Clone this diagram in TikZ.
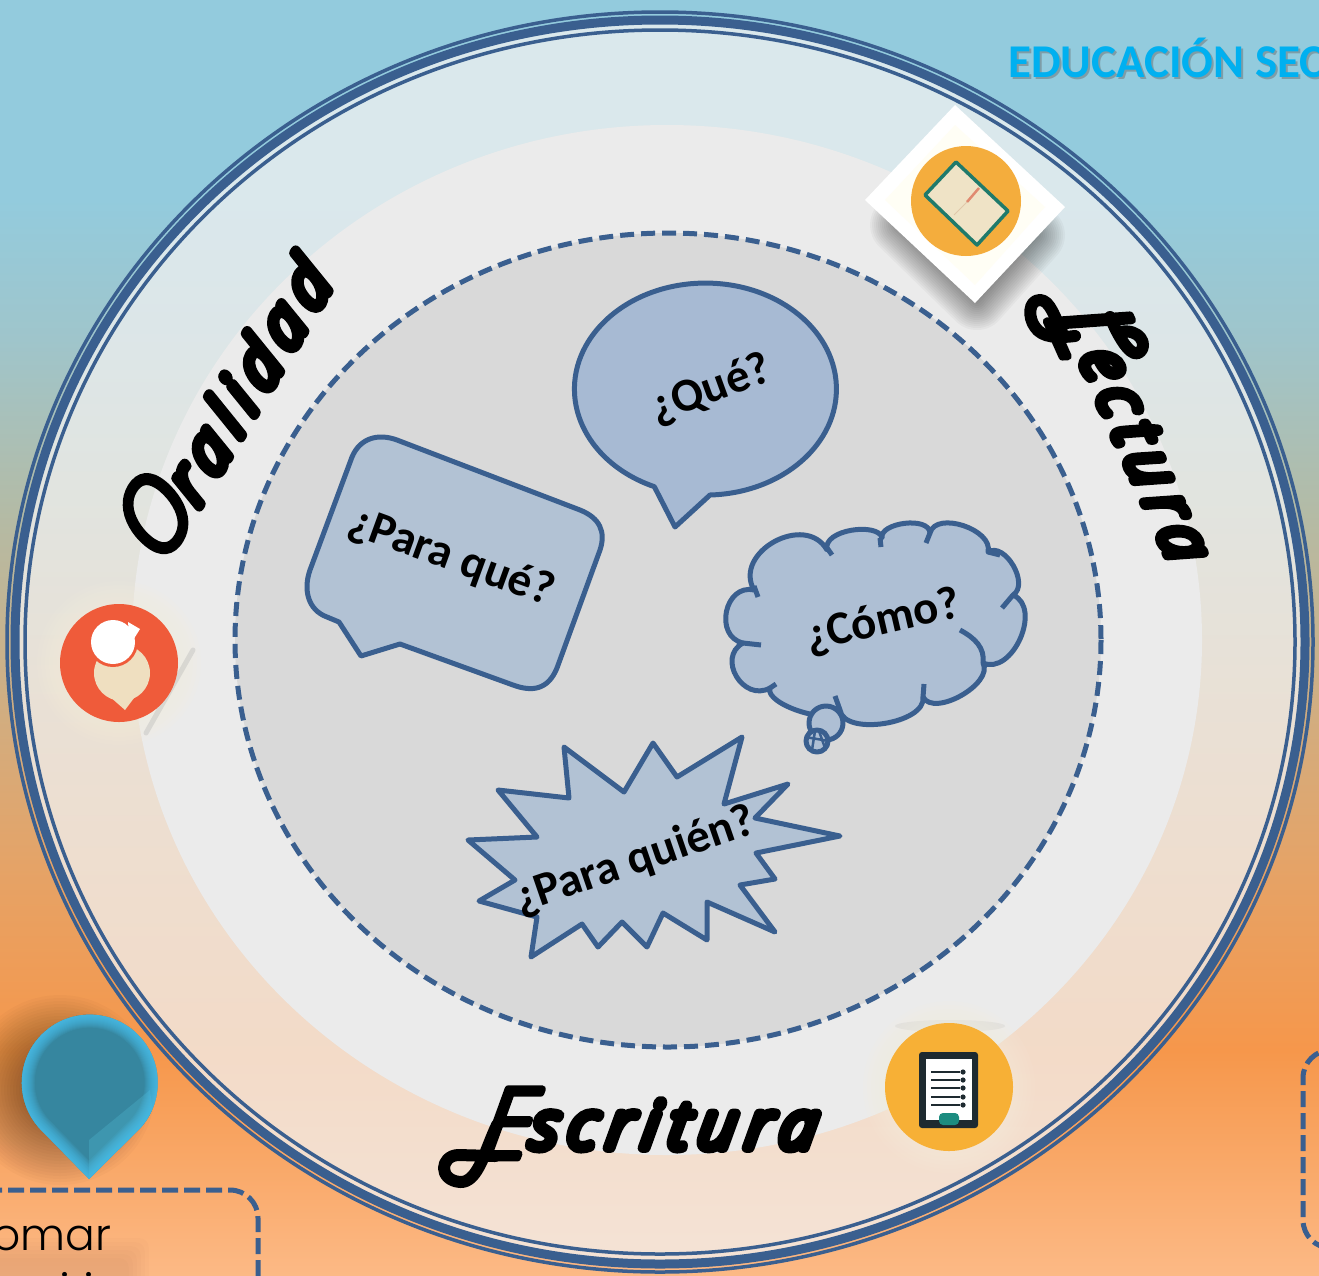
\documentclass[tikz,border=0pt]{standalone}
\usepackage{fontspec}
\usetikzlibrary{calc}
\newfontfamily\cali[Ligatures=TeX]{Carlito}
\newfontfamily\scrp[UprightFont={* Light Italic},FakeBold=15,FakeSlant=0.15,LetterSpace=17]{Open Sans}
\newfontfamily\scrc[UprightFont={* Light Italic},FakeBold=7,FakeSlant=0.15]{Open Sans}
\newfontfamily\goth[UprightFont={* Light}]{Poppins}
\definecolor{bgA}{HTML}{93CBDD}
\definecolor{bgB}{HTML}{9FC5CB}
\definecolor{bgC}{HTML}{B3BBA6}
\definecolor{bgD}{HTML}{D0AE82}
\definecolor{bgE}{HTML}{E5A367}
\definecolor{bgF}{HTML}{F6974B}
\definecolor{bgG}{HTML}{FCB985}
\definecolor{ink}{HTML}{3A5F8F}
\definecolor{bubA}{HTML}{A7BAD3}
\definecolor{bubB}{HTML}{B2C2D4}
\definecolor{bubC}{HTML}{AEBFD4}
\definecolor{halo}{HTML}{F6EEDC}
\definecolor{veil}{HTML}{F2F2F2}
\pgfdeclareverticalshading{bgv}{100bp}{color(0bp)=(bgG); color(25bp)=(bgG); color(33.8bp)=(bgF); color(41bp)=(bgE); color(47.5bp)=(bgD); color(55bp)=(bgC); color(61.7bp)=(bgB); color(67.2bp)=(bgA); color(100bp)=(bgA)}
\def\lobe(#1)(#2)(#3){.. controls ($0.333*(#1)+1.333*(#2)-0.667*(#3)$) and ($-0.667*(#1)+1.333*(#2)+0.333*(#3)$) .. (#3)}
\newcommand\capl[3]{{\scrc\fontsize{#2}{#2}\selectfont\raisebox{#3}{#1}}}
\tikzset{
  bubble/.style={draw=ink,line width=5pt,line join=round},
  ring/.style={draw=ink},
  asklabel/.style={font=\cali\bfseries\fontsize{47}{47}\selectfont,text=black,inner sep=0pt},
  scriptlabel/.style={font=\scrp\fontsize{65}{65}\selectfont,text=black,inner sep=0pt,line join=round,anchor=base west},
  swash/.style={draw=black,line width=12pt,line cap=round,line join=round},
  boxdash/.style={draw=ink,line width=5pt,dash pattern=on 16pt off 6pt,rounded corners=28pt},
}
\begin{document}
\begin{tikzpicture}[x=1pt,y=-1pt]
\useasboundingbox (0,0) rectangle (1319,1275);
\clip (0,0) rectangle (1319,1275);
\shade[shading=bgv] (0,0) rectangle (1319,1275);
% rings
\fill[veil,opacity=.75] (660,642) circle[x radius=645,y radius=623];
\draw[ring,line width=3.5pt] (660,642) circle[x radius=653,y radius=630];
\draw[ring,line width=9pt] (660,642) circle[x radius=645,y radius=622];
\draw[ring,line width=3.5pt] (660,642) circle[x radius=635,y radius=612];
% middle discs
\fill[fill=white!92!black] (667,640) circle[x radius=535,y radius=515];
\draw[fill=black!15,draw=ink,line width=5pt,dash pattern=on 14pt off 7pt] (668,640) circle[x radius=433,y radius=407];
% book icon
\foreach \w in {4,8,...,60}{\fill[black,opacity=.03,draw=black,line width=\w pt,line join=round] (960,160)--(1035,235)--(977,300)--(900,225)--cycle;}
\fill[white] (955,105)--(1065,207)--(975,303)--(865,200)--cycle;
\fill[yellow!4!white] (955,125)--(1045,207)--(975,285)--(885,200)--cycle;
\fill[fill={rgb,255:red,244;green,173;blue,61}] (966,201) circle[radius=55];
\draw[draw={rgb,255:red,31;green,122;blue,107},fill={rgb,255:red,239;green,227;blue,198},line width=3.5pt,line join=round] (956,162)--(1008,211)--(977,245)--(925,195)--cycle;
\draw[draw={rgb,255:red,224;green,138;blue,112},line width=2.5pt] (979,188)--(967,202);
\draw[draw={rgb,255:red,224;green,200;blue,170},line width=1pt] (967,202)--(954,215);
% speaker icon
\foreach \w in {4,8,...,24}{\fill[halo,opacity=.1] (119,663) circle[radius=58+\w];}
\draw[black!30,opacity=.35,line width=5pt,line cap=round] (193,650)--(146,733);
\fill[fill={rgb,255:red,239;green,91;blue,58}] (119,663) circle[radius=59];
\fill[fill={rgb,255:red,239;green,223;blue,192}] (122,673) circle[radius=28];
\fill[fill={rgb,255:red,239;green,223;blue,192}] (108,695)--(125,710)--(140,690)--cycle;
\fill[fill={rgb,255:red,239;green,91;blue,58}] (113,642) circle[radius=25];
\fill[white] (113,642) circle[radius=22];
\fill[white] (128,622)--(140,629)--(130,645)--cycle;
% document icon
\fill[black!30,opacity=.2] (950,1026) circle[x radius=55,y radius=6];
\foreach \w in {4,8,...,24}{\fill[halo,opacity=.1] (949,1087) circle[radius=62+\w];}
\fill[fill={rgb,255:red,247;green,176;blue,54}] (949,1087) circle[radius=64];
\fill[fill={rgb,255:red,30;green,42;blue,48},rounded corners=3pt] (919,1052) rectangle (978,1128);
\fill[white] (926,1059) rectangle (972,1120);
\foreach \y in {1072,1080,1088,1097,1105}{\fill[fill={rgb,255:red,30;green,42;blue,48}] (931,\y-1) rectangle (960,\y+1); \fill[fill={rgb,255:red,30;green,42;blue,48}] (963,\y) circle[radius=2.6];}
\fill[fill={rgb,255:red,28;green,140;blue,128},rounded corners=4pt] (939,1113) rectangle (959,1125);
% que bubble
\draw[bubble,fill=bubA] (655,488)--(675,527)--(710,495) arc[start angle=88,end angle=-247,x radius=131,y radius=106]--cycle;
% para que bubble
\draw[bubble,fill=bubB] (397,440)--(580,510) .. controls (600,518) and (606,532) .. (600,550)--(557,668) .. controls (548,690) and (532,692) .. (513,685)--(400,644)--(361,656)--(339,622)--(327,617) .. controls (308,610) and (303,590) .. (310,570)--(352,457) .. controls (360,438) and (378,433) .. (397,440)--cycle;
% cloud
\draw[bubble,fill=bubC] (754,590) \lobe(754,590)(775,542)(827,550) \lobe(825,545)(852,530)(882,538) \lobe(880,540)(905,524)(930,533) \lobe(930,533)(964,526)(988,552) \lobe(988,552)(1014,566)(1013,595) \lobe(1013,595)(1021,639)(983,663) \lobe(983,663)(962,696)(923,697) \lobe(923,697)(885,724)(840,710) \lobe(840,710)(801,712)(770,688) \lobe(770,688)(737,677)(743,643) \lobe(743,643)(727,612)(754,590)--cycle;
\draw[bubble] (754,586)--(758,597);
\draw[bubble] (825,545)--(832,555);
\draw[bubble] (880,538)--(881,547);
\draw[bubble] (930,533)--(926,543);
\draw[bubble] (988,552)--(1000,555);
\draw[bubble] (1013,595)--(1002,608);
\draw[bubble] (983,663) .. controls (985,648) and (975,638) .. (960,630);
\draw[bubble] (923,697)--(924,684);
\draw[bubble] (840,710)--(835,696);
\draw[bubble] (770,688)--(776,684);
\draw[bubble] (743,643)--(761,645);
\draw[bubble,fill=bubC] (826,723) circle[radius=17];
\draw[bubble,fill=bubC] (817,741) circle[radius=11];
\draw[ink,line width=2.5pt] (805,737)--(829,741) (815,731)--(812,750) (819,731)--(825,748);
% star
\draw[bubble,fill=bubB] (564,747)--(624,792)--(653,743)--(677,777)--(742,737)--(724,804)--(788,784)--(755,818)--(840,836)--(756,853)--(775,879)--(740,885)--(775,932)--(707,902)--(707,940)--(663,913)--(647,947)--(622,922)--(598,947)--(582,924)--(531,957)--(537,917)--(479,901)--(515,880)--(468,840)--(537,837)--(498,790)--(569,798)--cycle;
% questions
\node[asklabel,rotate=20] (que) at (711,390) {¿Qué?};
\node[asklabel,rotate=-20] (parque) at (451,558) {¿Para qué?};
\node[asklabel,rotate=13] (como) at (883,622) {¿Cómo?};
\node[asklabel,rotate=19] (paraquien) at (635,861) {¿Para quién?};
% script labels
\node[scriptlabel,rotate=59] (oral) at (163,567) {\capl{O}{95}{0pt}ralidad};
\node[scriptlabel,rotate=-66] (lect) at (1058,310) {\capl{L}{110}{-15pt}ectura};
\node[scriptlabel] (escr) at (478,1148) {\capl{E}{97}{-10pt}scritura};
\draw[swash] (495,1156)--(458,1155) .. controls (440,1156) and (438,1180) .. (460,1182) .. controls (478,1183) and (485,1150) .. (497,1125);
\draw[swash] (1062,332) .. controls (1055,318) and (1050,300) .. (1040,300) .. controls (1028,300) and (1028,318) .. (1035,327) .. controls (1042,338) and (1058,338) .. (1075,336);
\draw[swash] (1120,332) .. controls (1140,328) and (1148,345) .. (1140,352) .. controls (1133,358) and (1122,345) .. (1110,317);
% teardrop
\foreach \r in {8,11,...,95}{\fill[black,opacity=.018] (60,1090) circle[radius=\r];}
\begin{scope}
\clip (89,1179)--(40,1129) arc[start angle=137,end angle=402,radius=68]--cycle;
\fill[fill={rgb,255:red,54;green,134;blue,159}] (0,1000) rectangle (180,1190);
\fill[fill={rgb,255:red,62;green,150;blue,175}] (89,1179)--(89,1140)--(150,1090)--(160,1170)--cycle;
\foreach \w in {2,4,...,26}{\draw[cyan!70!white,opacity=.1,line width=\w pt,line join=round] (89,1179)--(40,1129) arc[start angle=137,end angle=402,radius=68]--cycle;}
\end{scope}
% title
\node[font=\cali\bfseries\fontsize{47}{47}\selectfont,text=black!60,opacity=.45,anchor=west,inner sep=0pt] (titleshadow) at (1010,60) {EDUCACIÓN SEC};
\node[font=\cali\bfseries\fontsize{47}{47}\selectfont,text={rgb,255:red,0;green,176;blue,240},anchor=west,inner sep=0pt] (title) at (1008,58) {EDUCACIÓN SEC};
% boxes
\draw[boxdash] (-14,1190)--(258,1190)--(258,1300);
\draw[boxdash] (1340,1050)--(1303,1050)--(1303,1248)--(1340,1248);
\foreach \r in {4,8,...,24}{\fill[black,opacity=.012,rounded corners=10pt] (-20,1262-\r) rectangle (125+\r,1300);}
\node[font=\goth\fontsize{44}{44}\selectfont,anchor=base west,inner sep=0pt] (omar) at (-8,1250) {omar};
\node[font=\goth\fontsize{48}{48}\selectfont,anchor=base,inner sep=0pt] (second) at (77,1308) {i i};
\end{tikzpicture}
\end{document}
